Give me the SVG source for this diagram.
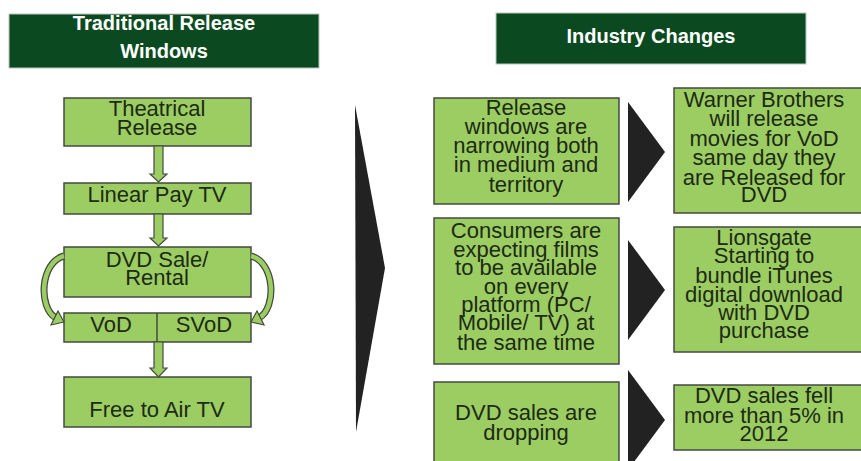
<svg xmlns="http://www.w3.org/2000/svg" width="861" height="461" viewBox="0 0 861 461">
  <style>
    .hdr { fill: #0b4a20; stroke: #b9c6bd; stroke-width: 1; }
    .hdr-t { fill: #ffffff; font-family: "Liberation Sans", Arial, sans-serif; font-weight: bold; font-size: 20px; text-anchor: middle; }
    .box { fill: #9bcd63; stroke: #444a40; stroke-width: 1.5; }
    .t { fill: #1e2a14; font-family: "Liberation Sans", Arial, sans-serif; font-size: 22px; text-anchor: middle; }
    .ta { fill: #9bcd63; stroke: #444a40; stroke-width: 1.2; stroke-linejoin: miter; }
    .chev { fill: #222222; }
    .cv-out { fill: none; stroke: #444a40; stroke-width: 7; }
    .cv-in { fill: none; stroke: #9bcd63; stroke-width: 4.5; }
  </style>

  <!-- Left column: traditional windows -->
  <g id="hdr-traditional">
    <rect class="hdr" x="9" y="14" width="310" height="54"/>
    <text class="hdr-t" x="164" y="30">Traditional Release</text>
    <text class="hdr-t" x="164" y="58">Windows</text>
  </g>

  <g id="theatrical">
    <rect class="box" x="64" y="98" width="187" height="48"/>
    <text class="t" x="157" y="116">Theatrical</text>
    <text class="t" x="157" y="135">Release</text>
  </g>

  <g id="linear-pay-tv">
    <rect class="box" x="64" y="183" width="187" height="31"/>
    <text class="t" x="157" y="202">Linear Pay TV</text>
  </g>

  <g id="dvd-sale">
    <rect class="box" x="64" y="247" width="187" height="50"/>
    <text class="t" x="157" y="267">DVD Sale/</text>
    <text class="t" x="157" y="285">Rental</text>
  </g>

  <g id="vod-svod">
    <rect class="box" x="64" y="313" width="187" height="29"/>
    <line x1="157" y1="313" x2="157" y2="342" stroke="#444a40" stroke-width="1.5"/>
    <text class="t" x="111" y="332">VoD</text>
    <text class="t" x="204" y="332">SVoD</text>
  </g>

  <g id="free-to-air">
    <rect class="box" x="64" y="377" width="187" height="50"/>
    <text class="t" x="157" y="417">Free to Air TV</text>
  </g>

  <!-- Flow connectors of the left column -->
  <g id="connectors">
    <polygon class="ta" points="154,146 163,146 163,174 167,174 158.5,182 150,174 154,174"/>
    <polygon class="ta" points="154,214 163,214 163,238 167,238 158.5,246 150,238 154,238"/>
    <polygon class="ta" points="154,342 163,342 163,368 167,368 158.5,377 150,368 154,368"/>

    <!-- curved bypass arrows from DVD to VoD / SVoD -->
    <path class="cv-out" d="M64,256 C40,262 38,308 56,318"/>
    <path class="cv-in" d="M64,256 C40,262 38,308 56,318"/>
    <polygon class="ta" points="64,322 51,325 58,311"/>
    <path class="cv-out" d="M251,256 C275,262 277,308 259,318"/>
    <path class="cv-in" d="M251,256 C275,262 277,308 259,318"/>
    <polygon class="ta" points="251,322 264,325 257,311"/>

    <!-- large divider chevron -->
    <polygon class="chev" points="355,105 385,268 356,432"/>

    <!-- small chevrons between cause and effect -->
    <polygon class="chev" points="628,102 665,152 628,202"/>
    <polygon class="chev" points="628,240 665,290 628,340"/>
    <polygon class="chev" points="628,370 665,420 628,470"/>
  </g>

  <!-- Right column: industry changes -->
  <g id="hdr-industry">
    <rect class="hdr" x="496" y="13" width="310" height="51"/>
    <text class="hdr-t" x="651" y="43">Industry Changes</text>
  </g>

  <g id="release-windows">
    <rect class="box" x="434" y="98" width="185" height="106"/>
    <text class="t" x="526" y="115">Release</text>
    <text class="t" x="526" y="134">windows are</text>
    <text class="t" x="526" y="153">narrowing both</text>
    <text class="t" x="526" y="172">in medium and</text>
    <text class="t" x="526" y="192">territory</text>
  </g>

  <g id="warner">
    <rect class="box" x="674" y="88" width="200" height="125"/>
    <text class="t" x="764" y="107">Warner Brothers</text>
    <text class="t" x="764" y="126">will release</text>
    <text class="t" x="764" y="146">movies for VoD</text>
    <text class="t" x="764" y="165">same day they</text>
    <text class="t" x="764" y="185">are Released for</text>
    <text class="t" x="764" y="202">DVD</text>
  </g>

  <g id="consumers">
    <rect class="box" x="434" y="218" width="185" height="146"/>
    <text class="t" x="526" y="238">Consumers are</text>
    <text class="t" x="526" y="257">expecting films</text>
    <text class="t" x="526" y="275">to be available</text>
    <text class="t" x="526" y="294">on every</text>
    <text class="t" x="526" y="312">platform (PC/</text>
    <text class="t" x="526" y="330">Mobile/ TV) at</text>
    <text class="t" x="526" y="350">the same time</text>
  </g>

  <g id="lionsgate">
    <rect class="box" x="674" y="227" width="200" height="125"/>
    <text class="t" x="764" y="245">Lionsgate</text>
    <text class="t" x="764" y="263">Starting to</text>
    <text class="t" x="764" y="283">bundle iTunes</text>
    <text class="t" x="764" y="302">digital download</text>
    <text class="t" x="764" y="320">with DVD</text>
    <text class="t" x="764" y="338">purchase</text>
  </g>

  <g id="dvd-dropping">
    <rect class="box" x="434" y="382" width="185" height="100"/>
    <text class="t" x="526" y="420">DVD sales are</text>
    <text class="t" x="526" y="440">dropping</text>
  </g>

  <g id="dvd-fell">
    <rect class="box" x="674" y="385" width="200" height="65"/>
    <text class="t" x="764" y="403">DVD sales fell</text>
    <text class="t" x="764" y="423">more than 5% in</text>
    <text class="t" x="764" y="441">2012</text>
  </g>
</svg>
